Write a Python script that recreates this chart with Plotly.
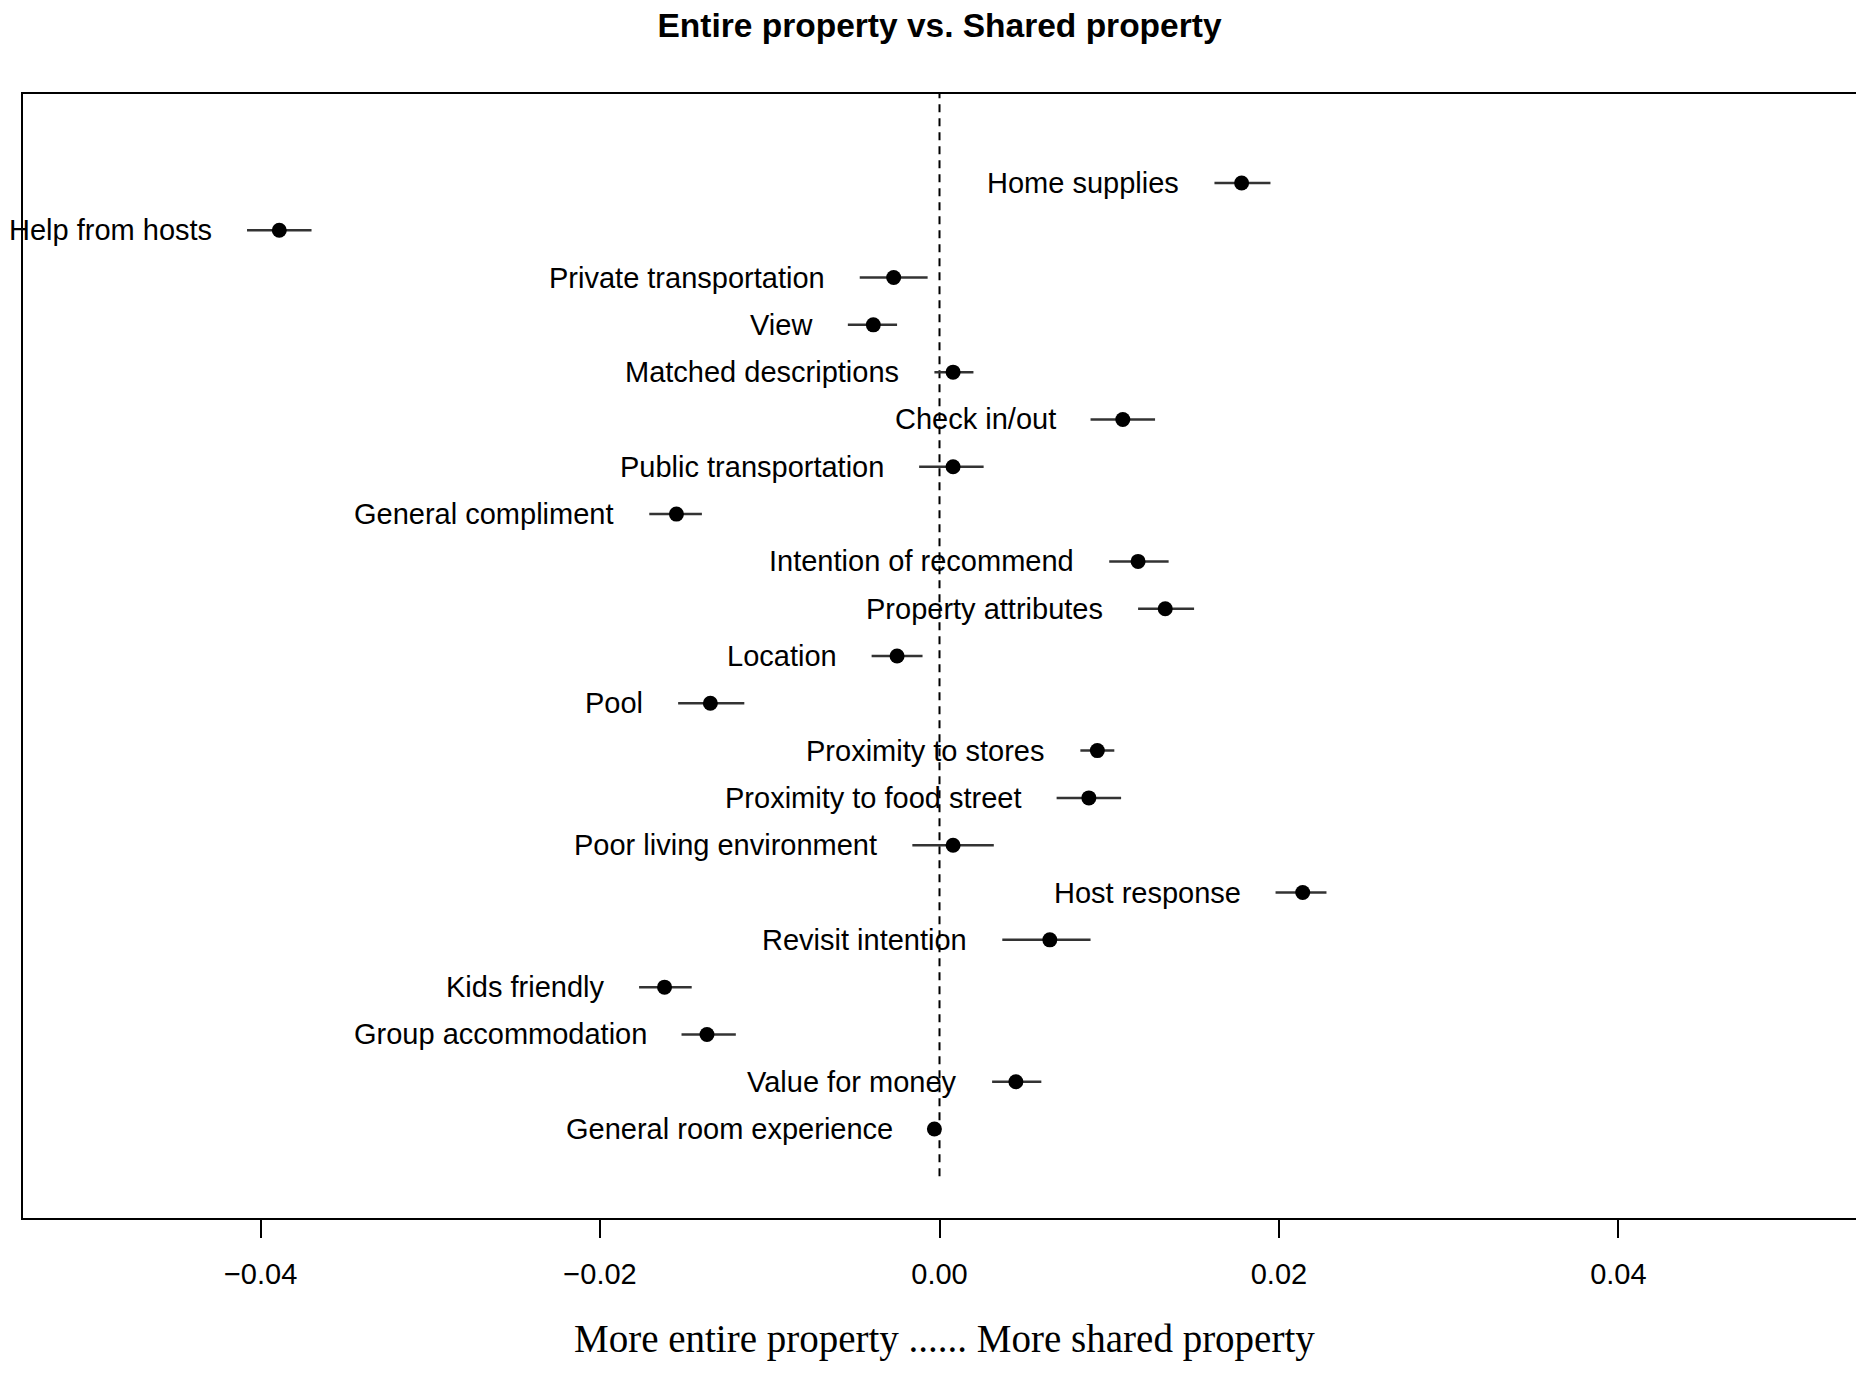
import plotly.graph_objects as go

labels = [
    "Home supplies", "Help from hosts", "Private transportation", "View",
    "Matched descriptions", "Check in/out", "Public transportation",
    "General compliment", "Intention of recommend", "Property attributes",
    "Location", "Pool", "Proximity to stores", "Proximity to food street",
    "Poor living environment", "Host response", "Revisit intention",
    "Kids friendly", "Group accommodation", "Value for money",
    "General room experience",
]
estimate = [0.0178, -0.0389, -0.0027, -0.0039, 0.0008, 0.0108, 0.0008,
            -0.0155, 0.0117, 0.0133, -0.0025, -0.0135, 0.0093, 0.0088,
            0.0008, 0.0214, 0.0065, -0.0162, -0.0137, 0.0045, -0.0003]
lower = [0.0162, -0.0408, -0.0047, -0.0054, -0.0003, 0.0089, -0.0012,
         -0.0171, 0.0100, 0.0117, -0.0040, -0.0154, 0.0083, 0.0069,
         -0.0016, 0.0198, 0.0037, -0.0177, -0.0152, 0.0031, -0.0007]
upper = [0.0195, -0.0370, -0.0007, -0.0025, 0.0020, 0.0127, 0.0026,
         -0.0140, 0.0135, 0.0150, -0.0010, -0.0115, 0.0103, 0.0107,
         0.0032, 0.0228, 0.0089, -0.0146, -0.0120, 0.0060, -0.0001]
tick_vals = [-0.04, -0.02, 0.0, 0.02, 0.04]
tick_text = ["\u22120.04", "\u22120.02", "0.00", "0.02", "0.04"]

n = len(labels)
ypos = [n - i for i in range(n)]  # top item highest

err_plus = [u - e for u, e in zip(upper, estimate)]
err_minus = [e - l for e, l in zip(estimate, lower)]

fig = go.Figure()
fig.add_trace(go.Scatter(
    x=estimate, y=ypos, mode="markers",
    marker=dict(size=15, color="black"),
    error_x=dict(type="data", symmetric=False, array=err_plus,
                 arrayminus=err_minus, width=0, thickness=2.5, color="#333333"),
    showlegend=False, hoverinfo="skip",
))

fig.add_shape(type="line", x0=0, x1=0, y0=0, y1=n + 1.88, xref="x", yref="y",
              line=dict(color="black", width=2, dash="8px,6px"), layer="below")

for lab, lo, yy in zip(labels, lower, ypos):
    fig.add_annotation(x=lo, y=yy, xref="x", yref="y", text=lab,
                       showarrow=False, xanchor="right", yanchor="middle",
                       xshift=-33, font=dict(family="Liberation Sans", size=29, color="black"))

fig.add_annotation(xref="paper", yref="paper", x=0.5027, y=-0.108,
                   text="More entire property ...... More shared property",
                   showarrow=False, xanchor="center", yanchor="middle",
                   font=dict(family="Liberation Serif", size=39, color="black"))

fig.update_layout(
    width=1864, height=1373,
    margin=dict(l=15, r=16, t=86, b=163),
    paper_bgcolor="white", plot_bgcolor="white",
    title=dict(text="<b>Entire property vs. Shared property</b>", x=0.5, xref="paper",
               y=1 - 17 / 1373, yref="container", xanchor="center", yanchor="middle",
               font=dict(family="Liberation Sans", size=33.5, color="black")),
    xaxis=dict(range=[-0.054, 0.054], tickvals=tick_vals, ticktext=tick_text,
               ticks="outside", ticklen=18, tickwidth=1.5, tickcolor="black",
               showline=True, linecolor="black", linewidth=2, mirror=True,
               showgrid=False, zeroline=False, ticklabelstandoff=11,
               tickfont=dict(family="Liberation Sans", size=29, color="black")),
    yaxis=dict(range=[-0.88, n + 1.88], showticklabels=False, ticks="",
               showline=True, linecolor="black", linewidth=2, mirror=True,
               showgrid=False, zeroline=False),
)

fig.write_html("out.html")
